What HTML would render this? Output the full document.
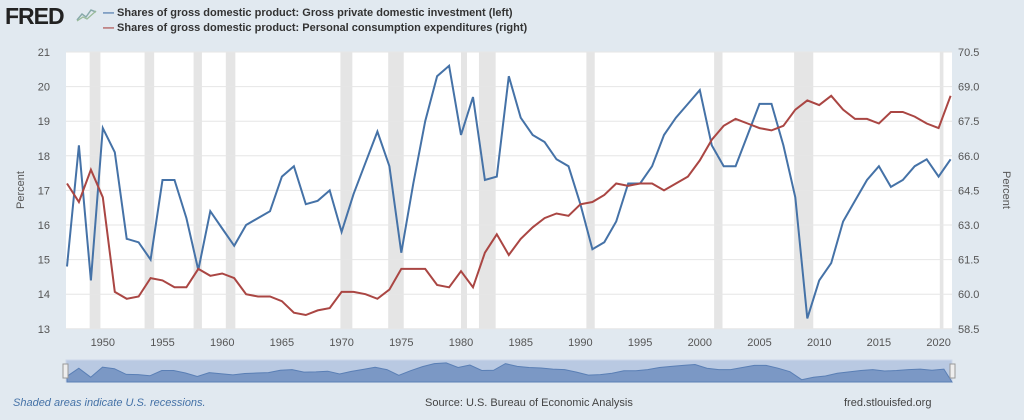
<!DOCTYPE html>
<html><head><meta charset="utf-8"><style>
body{margin:0;background:#e1e9f0;font-family:"Liberation Sans",sans-serif;}
#w{position:relative;width:1024px;height:420px;background:#e1e9f0;overflow:hidden}
.t{position:absolute;font-size:11px;color:#333}
</style></head><body><div id="w">
<div style="position:absolute;left:5px;top:3px;font:bold 23px 'Liberation Sans',sans-serif;color:#222;letter-spacing:-1px">FRED</div>
<svg style="position:absolute;left:76px;top:6px" width="22" height="16"><path d="M1 14 L6 8 L10 11 L15 4 L20 6" stroke="#8aa" fill="none" stroke-width="1.5"/><path d="M1 15 L7 11 L11 13 L20 5" stroke="#9b9" fill="none" stroke-width="1.2"/></svg>
<div class="t" style="left:103px;top:7px;font-weight:bold;font-size:11px"><span style="color:#4572a7">—</span> Shares of gross domestic product: Gross private domestic investment (left)</div>
<div class="t" style="left:103px;top:22px;font-weight:bold;font-size:11px"><span style="color:#aa4643">—</span> Shares of gross domestic product: Personal consumption expenditures (right)</div>
<svg id="s" style="position:absolute;left:0;top:0" width="1024" height="420"></svg>
<div class="t" style="left:13px;top:397px;font-style:italic;color:#4572a7">Shaded areas indicate U.S. recessions.</div>
<div class="t" style="left:425px;top:397px;color:#444">Source: U.S. Bureau of Economic Analysis</div>
<div class="t" style="left:844px;top:397px;color:#444">fred.stlouisfed.org</div>
</div>
<script>
var B=[14.8,18.3,14.4,18.8,18.1,15.6,15.5,15.0,17.3,17.3,16.2,14.7,16.4,15.9,15.4,16.0,16.2,16.4,17.4,17.7,16.6,16.7,17.0,15.8,16.9,17.8,18.7,17.7,15.2,17.2,19.0,20.3,20.6,18.6,19.7,17.3,17.4,20.3,19.1,18.6,18.4,17.9,17.7,16.6,15.3,15.5,16.1,17.2,17.2,17.7,18.6,19.1,19.5,19.9,18.3,17.7,17.7,18.6,19.5,19.5,18.3,16.8,13.3,14.4,14.9,16.1,16.7,17.3,17.7,17.1,17.3,17.7,17.9,17.4,17.9];
var R=[64.8,64.0,65.4,64.2,60.1,59.8,59.9,60.7,60.6,60.3,60.3,61.1,60.8,60.9,60.7,60.0,59.9,59.9,59.7,59.2,59.1,59.3,59.4,60.1,60.1,60.0,59.8,60.2,61.1,61.1,61.1,60.4,60.3,61.0,60.3,61.8,62.6,61.7,62.4,62.9,63.3,63.5,63.4,63.9,64.0,64.3,64.8,64.7,64.8,64.8,64.5,64.8,65.1,65.8,66.7,67.3,67.6,67.4,67.2,67.1,67.3,68.0,68.4,68.2,68.6,68.0,67.6,67.6,67.4,67.9,67.9,67.7,67.4,67.2,68.6];
var X=function(y){return 67+(y-1947)*11.94},YL=function(v){return 52+(21-v)*34.6},YR=function(v){return 52+(70.5-v)*23.07};
var h='<rect x="66" y="52" width="886" height="277" fill="#fff"/>';
[[1948.9,1949.8],[1953.5,1954.3],[1957.6,1958.3],[1960.3,1961.1],[1969.9,1970.9],[1973.9,1975.2],[1980.0,1980.5],[1981.5,1982.9],[1990.5,1991.2],[2001.2,2001.9],[2007.9,2009.5],[2020.1,2020.4]].forEach(function(r){h+='<rect x="'+X(r[0])+'" y="52" width="'+(X(r[1])-X(r[0]))+'" height="277" fill="#e5e5e5"/>'});
for(var i=0;i<=8;i++){var y=52+i*34.6;h+='<line x1="66" x2="952" y1="'+y+'" y2="'+y+'" stroke="#e6e6e6"/>';h+='<text x="50" y="'+(y+4)+'" text-anchor="end" font-size="11" fill="#555">'+(21-i)+'</text>';h+='<text x="958" y="'+(y+4)+'" font-size="11" fill="#555">'+(70.5-i*1.5).toFixed(1)+'</text>'}
for(var yr=1950;yr<=2020;yr+=5)h+='<text x="'+X(yr)+'" y="346" text-anchor="middle" font-size="11" fill="#555">'+yr+'</text>';
h+='<text transform="translate(24,190) rotate(-90)" text-anchor="middle" font-size="11" fill="#555">Percent</text>';
h+='<text transform="translate(1003,190) rotate(90)" text-anchor="middle" font-size="11" fill="#555">Percent</text>';
var pb='',pr='',pn='';B.forEach(function(v,i){pb+=(i?'L':'M')+X(1947+i).toFixed(1)+' '+YL(v).toFixed(1);pn+='L'+(67+i*11.85).toFixed(1)+' '+(362+(21-v)*2.3).toFixed(1)});R.forEach(function(v,i){pr+=(i?'L':'M')+X(1947+i).toFixed(1)+' '+YR(v).toFixed(1)});
h+='<path d="'+pb+'" fill="none" stroke="#4572a7" stroke-width="2"/><path d="'+pr+'" fill="none" stroke="#aa4643" stroke-width="2"/>';
h+='<rect x="66" y="360" width="886" height="22" fill="#b9c9e2" stroke="#cdd8ea"/><path d="M67 382'+pn+'L952 382Z" fill="#7b98c5" stroke="#5a7fb5"/><rect x="63" y="364" width="5" height="14" fill="#eee" stroke="#999"/><rect x="950" y="364" width="5" height="14" fill="#eee" stroke="#999"/>';
document.getElementById('s').innerHTML=h;
</script></body></html>
